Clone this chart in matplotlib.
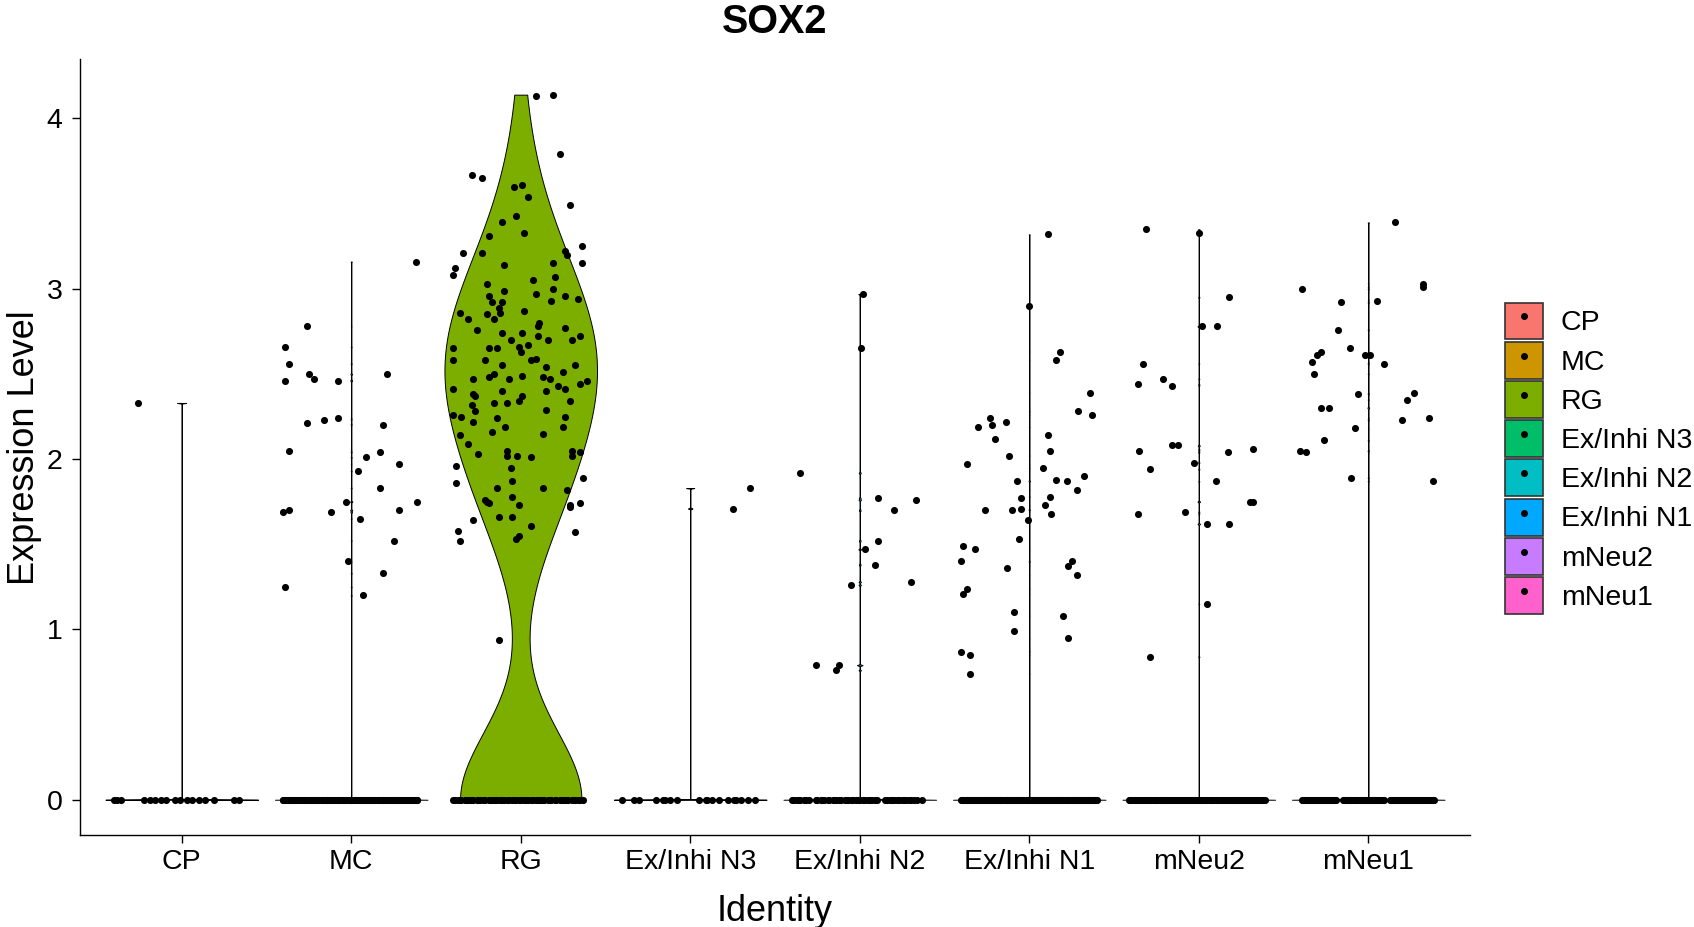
import numpy as np
import matplotlib
matplotlib.use("Agg")
import matplotlib.pyplot as plt
from matplotlib.patches import Patch
from matplotlib.lines import Line2D

plt.rcParams['font.family'] = ['Liberation Sans', 'DejaVu Sans']

gene = "SOX2"
identities = ["CP", "MC", "RG", "Ex/Inhi N3", "Ex/Inhi N2", "Ex/Inhi N1", "mNeu2", "mNeu1"]
palette = ["#F8766D", "#CD9600", "#7CAE00", "#00BE67", "#00BFC4", "#00A9FF", "#C77CFF", "#FF61CC"]
y_ticks = [0, 1, 2, 3, 4]

# ---- expression of SOX2-positive cells, with their horizontal jitter ----
cp_expr = [2.33]
cp_jit = [-0.26]

mc_expr = [3.16, 2.78, 2.66, 2.56, 2.50, 2.47, 2.46, 2.46, 2.50, 2.21, 2.23, 2.24, 2.20,
           2.05, 2.01, 2.04, 1.97, 1.93, 1.83, 1.75, 1.69, 1.70, 1.69, 1.75, 1.70, 1.65,
           1.52, 1.40, 1.33, 1.25, 1.20]
mc_jit = [0.38, -0.26, -0.39, -0.37, -0.25, -0.22, -0.39, -0.08, 0.21, -0.26, -0.16, -0.08, 0.19,
          -0.37, 0.09, 0.17, 0.28, 0.04, 0.17, -0.03, -0.40, -0.37, -0.12, 0.39, 0.28, 0.05,
          0.25, -0.02, 0.19, -0.39, 0.07]

rg_expr = [4.13, 4.14, 3.79, 3.67, 3.65, 3.60, 3.61, 3.54, 3.49, 3.43, 3.39, 3.33, 3.31, 3.25,
           3.21, 3.21, 3.22, 3.20, 3.12, 3.08, 3.14, 3.15, 3.15, 3.07, 3.03, 3.05, 2.99, 2.96,
           2.97, 3.00, 2.96, 2.92, 2.92, 2.89, 2.93, 2.94, 2.86, 2.85, 2.86, 2.87, 2.82, 2.82,
           2.80, 2.78, 2.76, 2.77, 2.74, 2.70, 2.74, 2.72, 2.70, 2.70, 2.72, 2.65, 2.65, 2.65,
           2.66, 2.67, 2.63, 2.58, 2.58, 2.58, 2.59, 2.55, 2.54, 2.55, 2.48, 2.50, 2.47, 2.49,
           2.47, 2.48, 2.47, 2.51, 2.41, 2.40, 2.38, 2.37, 2.43, 2.41, 2.40, 2.44, 2.46, 2.32,
           2.33, 2.33, 2.34, 2.37, 2.34, 2.26, 2.25, 2.28, 2.29, 2.22, 2.24, 2.25, 2.14, 2.16,
           2.19, 2.15, 2.19, 2.09, 2.03, 2.05, 2.02, 2.01, 2.05, 2.04, 2.02, 2.02, 1.96, 1.86,
           1.95, 1.87, 1.83, 1.83, 1.82, 1.89, 1.78, 1.76, 1.75, 1.74, 1.73, 1.73, 1.72, 1.74,
           1.64, 1.66, 1.66, 1.61, 1.58, 1.52, 1.53, 1.55, 1.57, 0.94]
rg_jit = [0.09, 0.19, 0.23, -0.29, -0.23, -0.04, 0.01, 0.04, 0.29, -0.03, -0.11, 0.02, -0.19, 0.36,
          -0.34, -0.23, 0.26, 0.27, -0.39, -0.40, -0.10, 0.19, 0.36, 0.20, -0.20, 0.07, -0.10, -0.19,
          0.09, 0.19, 0.26, -0.17, -0.11, -0.13, 0.18, 0.34, -0.36, -0.20, -0.12, 0.02, -0.31, -0.16,
          0.11, 0.10, -0.26, 0.26, -0.11, -0.06, 0.01, 0.10, 0.16, 0.30, 0.35, -0.40, -0.19, -0.14,
          -0.01, 0.04, 0.00, -0.40, -0.21, 0.06, 0.09, -0.11, 0.15, 0.32, -0.19, -0.16, -0.28, 0.01,
          -0.07, 0.13, 0.17, 0.25, -0.40, -0.11, -0.28, -0.27, 0.22, 0.26, 0.15, 0.35, 0.39, -0.29,
          -0.16, -0.08, -0.01, 0.01, 0.29, -0.40, -0.35, -0.27, 0.15, -0.28, -0.14, 0.26, -0.36, -0.17,
          -0.09, 0.13, 0.25, -0.31, -0.25, -0.08, -0.02, 0.06, 0.30, 0.35, -0.08, 0.30, -0.38, -0.38,
          -0.06, -0.05, -0.14, 0.13, 0.27, 0.37, -0.05, -0.21, -0.20, -0.19, -0.01, 0.29, 0.29, 0.35,
          -0.28, -0.13, -0.05, 0.06, -0.37, -0.36, -0.03, -0.01, 0.32, -0.13]

n3_expr = [1.83, 1.71]
n3_jit = [0.35, 0.25]

n2_expr = [2.97, 2.65, 1.92, 1.77, 1.76, 1.70, 1.52, 1.47, 1.38, 1.26, 1.28, 0.79, 0.79, 0.76]
n2_jit = [0.02, 0.01, -0.35, 0.11, 0.33, 0.20, 0.11, 0.03, 0.09, -0.05, 0.30, -0.26, -0.12, -0.14]

n1_expr = [3.32, 2.90, 2.63, 2.58, 2.39, 2.28, 2.26, 2.24, 2.20, 2.19, 2.22, 2.12, 2.14, 2.05,
           2.02, 1.97, 1.95, 1.90, 1.87, 1.88, 1.87, 1.82, 1.78, 1.77, 1.70, 1.70, 1.71, 1.73,
           1.68, 1.64, 1.53, 1.49, 1.47, 1.40, 1.36, 1.40, 1.37, 1.32, 1.24, 1.21, 1.10, 1.08,
           0.99, 0.95, 0.87, 0.85, 0.74]
n1_jit = [0.11, 0.00, 0.18, 0.16, 0.36, 0.29, 0.37, -0.23, -0.22, -0.30, -0.14, -0.20, 0.11, 0.12,
          -0.12, -0.37, 0.08, 0.32, -0.07, 0.16, 0.22, 0.28, 0.12, -0.05, -0.26, -0.10, -0.05, 0.09,
          0.13, -0.01, -0.06, -0.39, -0.32, -0.40, -0.13, 0.25, 0.23, 0.28, -0.37, -0.39, -0.09, 0.20,
          -0.09, 0.23, -0.40, -0.35, -0.35]

mneu2_expr = [3.35, 3.33, 2.95, 2.78, 2.78, 2.56, 2.44, 2.47, 2.43, 2.08, 2.08, 2.05, 2.04,
              2.06, 1.98, 1.94, 1.87, 1.75, 1.75, 1.68, 1.69, 1.62, 1.62, 1.15, 0.84]
mneu2_jit = [-0.31, 0.00, 0.18, 0.02, 0.11, -0.33, -0.36, -0.21, -0.16, -0.16, -0.12, -0.35, 0.17,
             0.32, -0.03, -0.29, 0.10, 0.30, 0.32, -0.36, -0.08, 0.05, 0.18, 0.05, -0.29]

mneu1_expr = [3.39, 3.03, 3.01, 3.00, 2.92, 2.93, 2.76, 2.65, 2.61, 2.61, 2.61, 2.63, 2.57, 2.50,
              2.56, 2.38, 2.39, 2.35, 2.30, 2.30, 2.23, 2.24, 2.18, 2.11, 2.05, 2.04, 1.89, 1.87]
mneu1_jit = [0.16, 0.32, 0.32, -0.39, -0.16, 0.05, -0.18, -0.11, -0.02, 0.01, -0.30, -0.28, -0.33, -0.32,
             0.09, -0.06, 0.27, 0.23, -0.28, -0.23, 0.20, 0.36, -0.08, -0.26, -0.40, -0.37, -0.10, 0.38]

# ---- horizontal jitter (in hundredths of a slot) of the cells with zero expression ----
cp_zero_jit = [-40, -38, -36, -22, -19, -16, -12, -9, -4, -1, 3, 6, 10, 14, 19, 31, 34]
mc_zero_jit = [-40, -39, -38, -37, -36, -35, -34, -33, -32, -31, -30, -29, -28, -27, -26, -25,
               -24, -23, -22, -21, -20, -19, -18, -17, -16, -15, -14, -13, -12, -11, -10, -9,
               -8, -7, -6, -5, -4, -3, -2, -1, 0, 1, 2, 3, 4, 5, 6, 7, 8, 9, 10, 11, 12, 13, 14,
               15, 16, 17, 18, 19, 20, 21, 22, 23, 24, 25, 26, 27, 28, 29, 30, 31, 32, 33, 34,
               35, 36, 37, 38, 39, -38, -35, -31, -28, -24, -21, -17, -14, -10, -7, -3, 0, 4, 7,
               11, 14, 18, 21, 25, 28, 32, 35, 38, -36, -29, -22, -15, -8, -1, 6, 13, 20, 27, 34,
               -33, -19, -5, 9, 23, 37, -26, -12, 2, 16, 30, -40, -20, 0, 19, 39, -11, 24]
rg_zero_jit = [-40, -39, -37, -36, -35, -33, -32, -31, -29, -28, -26, -25, -24, -22, -21, -19,
               -18, -17, -15, -14, -12, -11, -10, -8, -7, -5, -4, -3, -1, 0, 2, 3, 4, 6, 7, 9,
               10, 11, 13, 14, 16, 17, 18, 20, 21, 23, 24, 25, 27, 28, 30, 31, 32, 34, 35, 37,
               -30, 12, -16, 26]
n3_zero_jit = [-40, -33, -30, -20, -16, -15, -12, -8, 5, 9, 10, 13, 17, 22, 26, 27, 30, 34, 38]
n2_zero_jit = [-40, -39, -37, -36, -35, -33, -32, -30, -26, -25, -23, -22, -21, -19, -18, -16,
               -15, -14, -12, -11, -9, -8, -7, -5, -4, -2, -1, 0, 2, 3, 5, 6, 7, 9, 10, 15, 16,
               18, 19, 20, 22, 23, 25, 26, 27, 29, 30, 32, 34, 37]
n1_zero_jit = [-40, -39, -38, -37, -36, -35, -34, -33, -32, -31, -30, -29, -28, -27, -26, -25,
               -24, -23, -22, -21, -20, -19, -18, -17, -16, -15, -14, -13, -12, -11, -10, -9,
               -8, -7, -6, -5, -4, -3, -2, -1, 0, 1, 2, 3, 4, 5, 6, 7, 8, 9, 10, 11, 12, 13, 14,
               15, 16, 17, 18, 19, 20, 21, 22, 23, 24, 25, 26, 27, 28, 29, 30, 31, 32, 33, 34,
               35, 36, 37, 38, 39, 40,
               -39.5, -38.5, -37.5, -36.5, -35.5, -34.5, -33.5, -32.5, -31.5, -30.5, -29.5,
               -28.5, -27.5, -26.5, -25.5, -24.5, -23.5, -22.5, -21.5, -20.5, -19.5, -18.5,
               -17.5, -16.5, -15.5, -14.5, -13.5, -12.5, -11.5, -10.5, -9.5, -8.5, -7.5, -6.5,
               -5.5, -4.5, -3.5, -2.5, -1.5, -0.5, 0.5, 1.5, 2.5, 3.5, 4.5, 5.5, 6.5, 7.5, 8.5,
               9.5, 10.5, 11.5, 12.5, 13.5, 14.5, 15.5, 16.5, 17.5, 18.5, 19.5, 20.5, 21.5,
               22.5, 23.5, 24.5, 25.5, 26.5, 27.5, 28.5, 29.5, 30.5, 31.5, 32.5, 33.5, 34.5,
               35.5, 36.5, 37.5, 38.5, 39.5,
               -37, -31, -25, -19, -13, -7, -1, 5, 11, 17, 23, 29, 35, -22, 8, 38]
mneu2_zero_jit = [-41, -40, -39, -38, -37, -36, -35, -34, -33, -32, -31, -30, -29, -28, -27, -26,
                  -25, -24, -23, -22, -21, -20, -19, -18, -17, -16, -15, -14, -13, -12, -11, -10,
                  -9, -8, -7, -6, -5, -4, -3, -2, -1, 0, 1, 2, 3, 4, 5, 6, 7, 8, 9, 10, 11, 12,
                  13, 14, 15, 16, 17, 18, 19, 20, 21, 22, 23, 24, 25, 26, 27, 28, 29, 30, 31, 32,
                  33, 34, 35, 36, 37, 38, 39,
                  -40.5, -37.5, -34.5, -31.5, -28.5, -25.5, -22.5, -19.5, -16.5, -13.5, -10.5,
                  -7.5, -4.5, -1.5, 1.5, 4.5, 7.5, 10.5, 13.5, 16.5, 19.5, 22.5, 25.5, 28.5,
                  31.5, 34.5, 37.5, -20, 20]
mneu1_zero_jit = [-39, -38, -37, -36, -35, -34, -33, -32, -31, -30, -29, -28, -27, -26, -25, -24,
                  -23, -22, -21, -20, -19, -15, -14, -13, -12, -11, -10, -9, -8, -7, -6, -5, -4,
                  -3, -2, -1, 0, 1, 2, 3, 4, 5, 6, 7, 8, 9, 13, 14, 15, 16, 17, 18, 19, 20, 21,
                  22, 23, 24, 25, 26, 27, 28, 29, 30, 31, 32, 33, 34, 35, 36, 37, 38, 39,
                  -38.5, -36.5, -34.5, -32.5, -30.5, -28.5, -26.5, -24.5, -22.5, -20.5, -14.5,
                  -12.5, -10.5, -8.5, -6.5, -4.5, -2.5, -0.5, 1.5, 3.5, 5.5, 7.5, 13.5, 15.5,
                  17.5, 19.5, 21.5, 23.5, 25.5, 27.5, 29.5, 31.5, 33.5, 35.5, 37.5,
                  -37, -29, -21, -13, -5, 3, 15, 23, 31, 38, -25, 27]

groups = [
    (cp_expr, cp_jit, cp_zero_jit),
    (mc_expr, mc_jit, mc_zero_jit),
    (rg_expr, rg_jit, rg_zero_jit),
    (n3_expr, n3_jit, n3_zero_jit),
    (n2_expr, n2_jit, n2_zero_jit),
    (n1_expr, n1_jit, n1_zero_jit),
    (mneu2_expr, mneu2_jit, mneu2_zero_jit),
    (mneu1_expr, mneu1_jit, mneu1_zero_jit),
]


def bw_nrd0(v):
    """Silverman's rule as in R's bw.nrd0.  Seurat adds ~1e-5 noise to the
    expression values, so a group that is mostly zeros ends up with an IQR of
    that order and hence an almost-zero bandwidth."""
    sd = np.std(v, ddof=1)
    q75, q25 = np.percentile(v, [75, 25])
    spread = min(sd, (q75 - q25) / 1.34)
    if spread <= 0:
        spread = 1e-5
    return 0.9 * spread * len(v) ** -0.2


def violin_density(v, bw, n=512):
    """Binned Gaussian KDE (like stats::density) evaluated from min to max."""
    lo, up = v.min() - 4 * bw, v.max() + 4 * bw
    grid = np.linspace(lo, up, n)
    delta = grid[1] - grid[0]
    pos = (v - lo) / delta
    idx = np.floor(pos).astype(int)
    frac = pos - idx
    w = np.zeros(n + 1)
    np.add.at(w, idx, 1 - frac)
    np.add.at(w, np.minimum(idx + 1, n), frac)
    w = w[:n]
    offs = np.arange(-(n - 1), n) * delta
    kern = np.exp(-0.5 * (offs / bw) ** 2) / (bw * np.sqrt(2 * np.pi))
    dens = np.convolve(w, kern, mode="valid")
    y = np.linspace(v.min(), v.max(), n)
    return y, np.interp(y, grid, dens)


W, H = 1694, 927
fig = plt.figure(figsize=(W / 100, H / 100), dpi=100)
ax = fig.add_axes([80 / W, 1 - 835 / H, (1470 - 80) / W, (835 - 59.4) / H])

all_vals = []
for i, (expr, jit, zjit) in enumerate(groups):
    pos = i + 1
    zero_x = np.array(zjit, dtype=float) / 100
    values = np.array(list(expr) + [0.0] * len(zero_x))
    all_vals.append(values)
    y, d = violin_density(values, bw_nrd0(values))
    half = 0.45 * d / d.max()
    ax.fill_betweenx(y, pos - half, pos + half, facecolor=palette[i],
                     edgecolor="black", linewidth=0.7, zorder=2)
    ax.scatter(pos + np.array(jit), expr, s=26, color="black", linewidths=0, zorder=3)
    ax.scatter(pos + zero_x, np.zeros(len(zero_x)), s=26, color="black",
               linewidths=0, zorder=3)

ymax = max(v.max() for v in all_vals)
pad = 0.05 * ymax
ax.set_ylim(-pad, ymax + pad)
ax.set_xlim(0.4, len(identities) + 0.6)
ax.set_xticks(range(1, len(identities) + 1))
ax.set_xticklabels(identities)
ax.set_yticks(y_ticks)

for side in ("top", "right"):
    ax.spines[side].set_visible(False)
for side in ("left", "bottom"):
    ax.spines[side].set_linewidth(1.0)
ax.tick_params(axis="both", length=5.5, width=1.0, labelsize=20.5, colors="black")
ax.tick_params(axis="x", pad=4.5)
ax.tick_params(axis="y", pad=7)

ax.set_xlabel("Identity", fontsize=26)
ax.xaxis.set_label_coords(0.5, -(911.5 - 835) / (835 - 59.4))
ax.xaxis.label.set_va("center")
ax.set_ylabel("Expression Level", fontsize=26)
ax.yaxis.set_label_coords(-(80 - 24) / (1470 - 80), 0.5)
ax.yaxis.label.set_va("center")

fig.text(775 / W, 1 - 22 / H, gene, fontsize=28.5, fontweight="bold",
         ha="center", va="center")

handles = [(Patch(facecolor=c, edgecolor="#333333", linewidth=1.2),
            Line2D([], [], marker="o", color="black", markersize=4, linestyle="none"))
           for c in palette]
fig.legend(handles, identities, loc="upper left",
           bbox_to_anchor=(1505 / W, 1 - 302.5 / H), frameon=False, fontsize=20.5,
           handlelength=1.33, handleheight=1.62, handletextpad=0.63, labelspacing=0.08,
           borderpad=0, borderaxespad=0)

fig.savefig("out.png", dpi=100)
